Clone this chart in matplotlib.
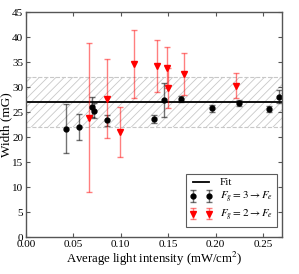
import numpy as np
import matplotlib
matplotlib.use("Agg")
import matplotlib.pyplot as plt

plt.rcParams['font.family'] = ['Liberation Serif', 'DejaVu Serif']
plt.rcParams['mathtext.fontset'] = 'stix'
plt.rcParams['hatch.color'] = '#c8c8c8'
plt.rcParams['hatch.linewidth'] = 0.6

# F_g = 3 -> F_e
x_f3 = [0.0422, 0.0564, 0.0700, 0.0712, 0.0850, 0.1348, 0.1454, 0.1638, 0.1957, 0.2245, 0.2567, 0.2673]
y_f3 = [21.7, 22.0, 26.1, 25.3, 23.4, 23.7, 27.5, 27.7, 25.8, 26.9, 25.6, 28.1]
e_f3 = [4.9, 2.6, 2.0, 1.5, 1.1, 0.8, 3.4, 0.6, 0.7, 0.6, 0.6, 1.3]

# F_g = 2 -> F_e
x_f2 = [0.0667, 0.0851, 0.0993, 0.1135, 0.1383, 0.1488, 0.1498, 0.1670, 0.2210]
y_f2 = [23.9, 27.7, 21.1, 34.7, 34.3, 33.9, 29.9, 32.7, 30.3]
e_f2 = [14.9, 7.9, 5.0, 6.8, 5.2, 4.1, 4.0, 4.2, 2.5]

fit_value = 27.0
band_low, band_high = 22.0, 32.0

fig = plt.figure(figsize=(2.99, 2.74), dpi=100)
ax = fig.add_axes([0.087, 0.135, 0.856, 0.82])

xlim = (0.0, 0.27)
ax.fill_between(xlim, band_low, band_high, facecolor='none', edgecolor='#c8c8c8',
                hatch='////', linewidth=0)
ax.axhline(band_low, color='#c8c8c8', ls='--', lw=0.8)
ax.axhline(band_high, color='#c8c8c8', ls='--', lw=0.8)
ax.axhline(fit_value, color='black', lw=1.3, label='Fit')

ax.errorbar(x_f3, y_f3, yerr=e_f3, fmt='o', color='black', ms=3.5,
            ecolor=(0, 0, 0, 0.55), elinewidth=1.0, capsize=2, capthick=1.0,
            label=r'$F_g=3\rightarrow F_e$')
ax.errorbar(x_f2, y_f2, yerr=e_f2, fmt='v', color='red', ms=5,
            ecolor=(1, 0, 0, 0.5), elinewidth=1.0, capsize=2, capthick=1.0,
            label=r'$F_g=2\rightarrow F_e$')

ax.set_xlim(*xlim)
ax.set_ylim(0, 45)
ax.set_xticks([0.00, 0.05, 0.10, 0.15, 0.20, 0.25])
ax.set_xticklabels(['0.00', '0.05', '0.10', '0.15', '0.20', '0.25'])
ax.set_yticks(range(0, 46, 5))
ax.tick_params(direction='in', top=True, right=True, labelsize=8, length=3,
               pad=2, color='#555555')
for s in ax.spines.values():
    s.set_color('#555555')
    s.set_linewidth(1.0)

ax.set_xlabel(r'Average light intensity (mW/cm$^2$)', fontsize=9.2, labelpad=1)
ax.set_ylabel('Width (mG)', fontsize=9.5, labelpad=0)

leg = ax.legend(loc='lower right', bbox_to_anchor=(0.98, 0.044), fontsize=8,
                numpoints=2, frameon=True, fancybox=False, borderaxespad=0,
                handlelength=2, labelspacing=0.25, borderpad=0.35,
                handletextpad=0.7)
leg.get_frame().set_edgecolor('#333333')
leg.get_frame().set_linewidth(0.8)

fig.savefig('out.png', dpi=100)
